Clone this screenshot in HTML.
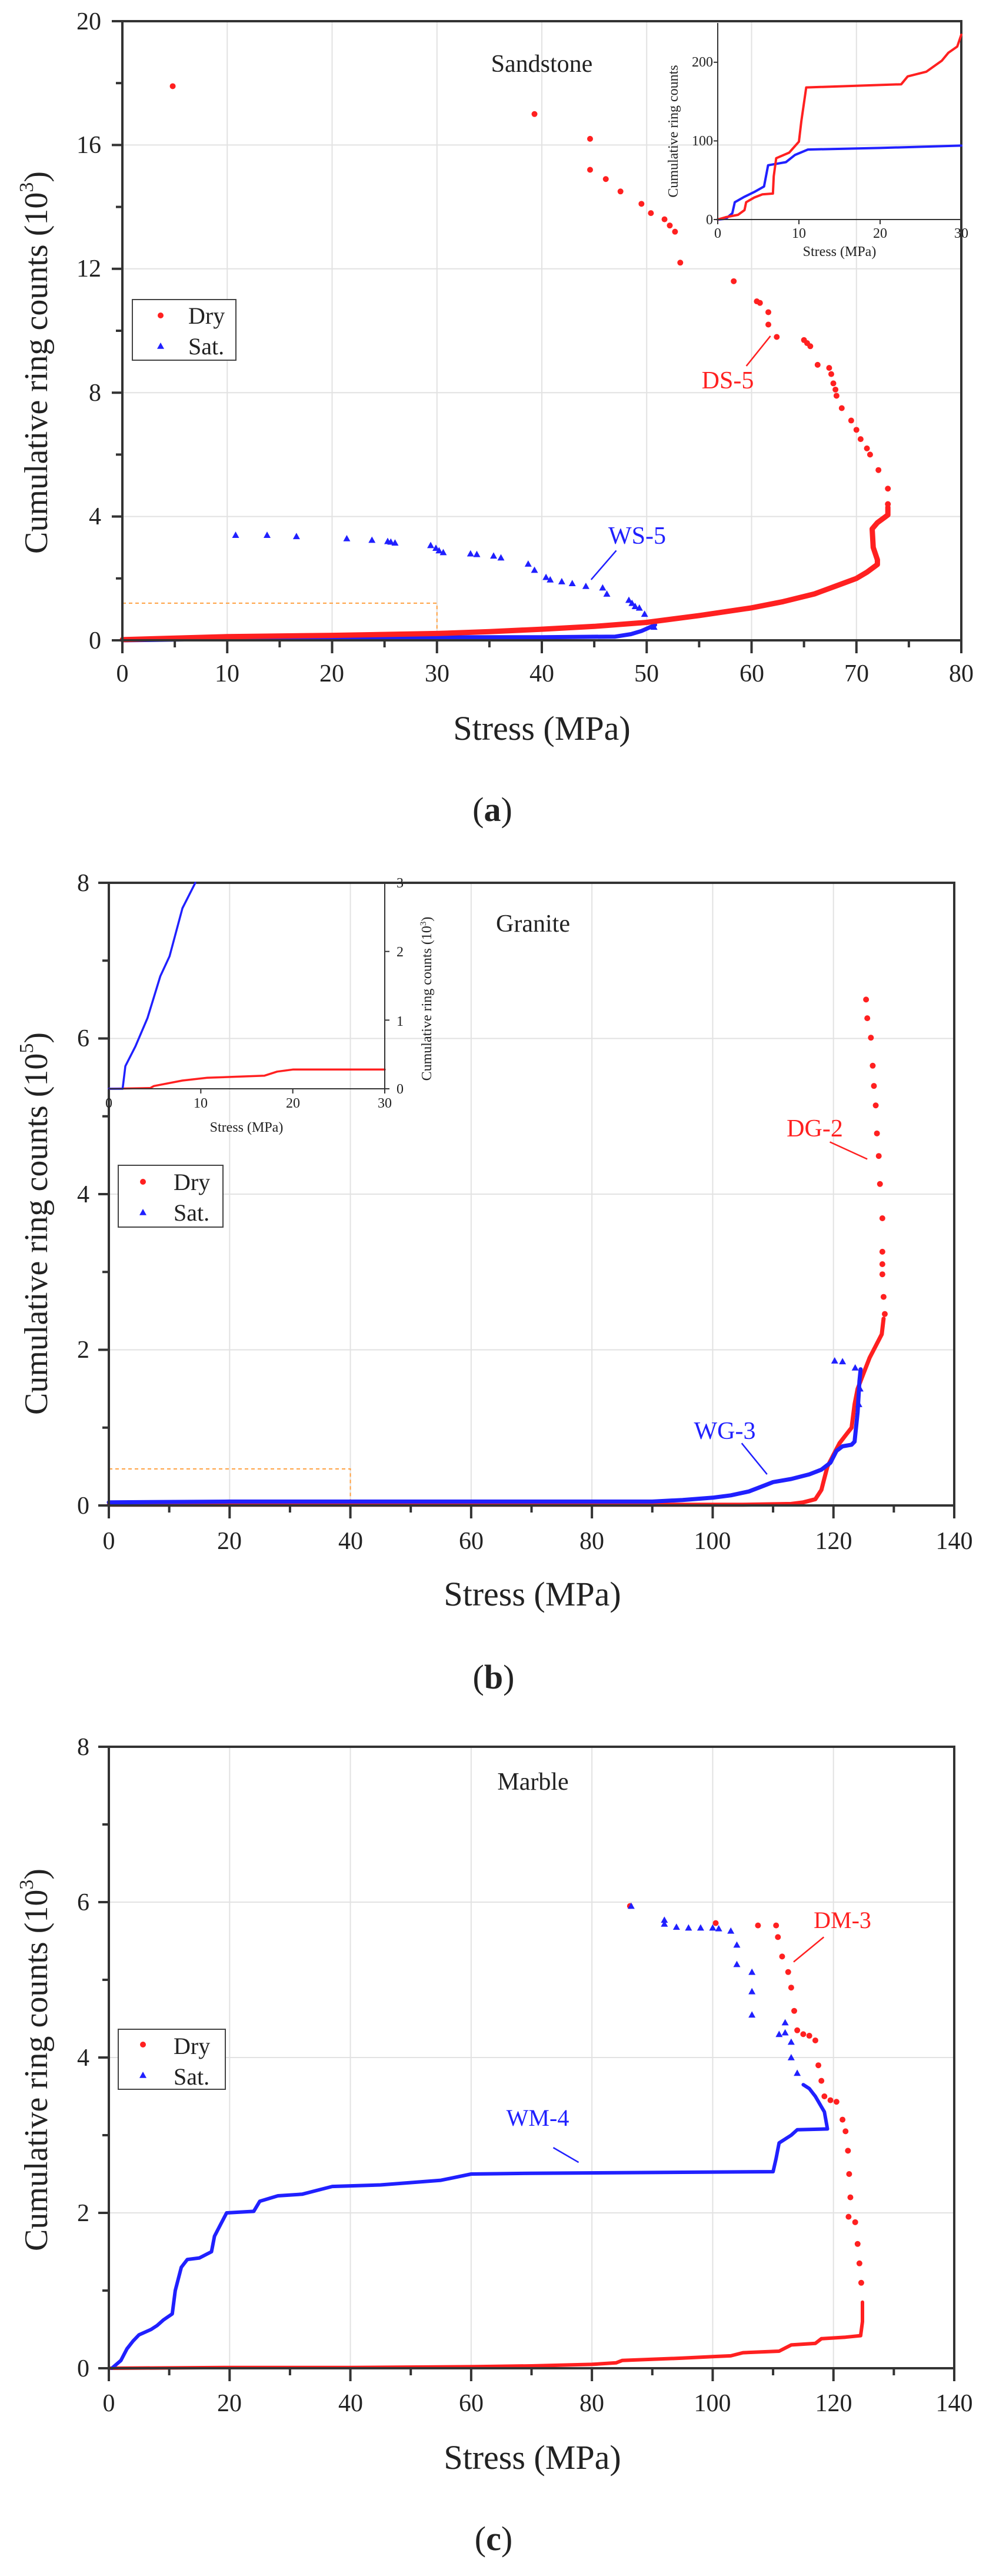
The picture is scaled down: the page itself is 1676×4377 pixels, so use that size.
<!DOCTYPE html>
<html><head><meta charset="utf-8">
<style>
html,body{margin:0;padding:0;background:#fff;}
svg{display:block;}
text{font-family:"Liberation Serif",serif;fill:#222;}
</style></head>
<body>
<svg id="s" xmlns="http://www.w3.org/2000/svg" width="1676" height="4377" viewBox="0 0 1676 4377">
<rect width="1676" height="4377" fill="#fff"/>
<g id="g"></g>
<!-- Panel a texts -->
<g font-size="42" text-anchor="end">
<text x="172" y="1102">0</text><text x="172" y="891">4</text><text x="172" y="681">8</text>
<text x="172" y="470">12</text><text x="172" y="260">16</text><text x="172" y="50">20</text>
</g>
<g font-size="42" text-anchor="middle">
<text x="208" y="1158">0</text><text x="386" y="1158">10</text><text x="564" y="1158">20</text><text x="743" y="1158">30</text>
<text x="921" y="1158">40</text><text x="1099" y="1158">50</text><text x="1278" y="1158">60</text><text x="1456" y="1158">70</text><text x="1634" y="1158">80</text>
</g>
<text x="921" y="1257" font-size="58" text-anchor="middle">Stress (MPa)</text>
<text transform="translate(80,616) rotate(-90)" font-size="56" text-anchor="middle">Cumulative ring counts (10<tspan font-size="34" dy="-24">3</tspan><tspan dy="24">)</tspan></text>
<text x="837" y="1395" font-size="58" text-anchor="middle">(<tspan font-weight="bold">a</tspan>)</text>
<text x="921" y="122" font-size="42" text-anchor="middle">Sandstone</text>
<text x="1237" y="660" font-size="42" style="fill:#ff2020" text-anchor="middle">DS-5</text>
<text x="1083" y="924" font-size="42" style="fill:#2020ff" text-anchor="middle">WS-5</text>
<rect x="225" y="509" width="176" height="103" fill="#fff" stroke="#444" stroke-width="2"/>
<text x="320" y="550" font-size="40">Dry</text><text x="320" y="602" font-size="40">Sat.</text>
<!-- inset a -->
<g font-size="24" text-anchor="middle">
<text x="1220" y="404">0</text><text x="1358" y="404">10</text><text x="1496" y="404">20</text><text x="1634" y="404">30</text>
<text x="1427" y="435">Stress (MPa)</text>
</g>
<g font-size="24" text-anchor="end">
<text x="1212" y="381">0</text><text x="1212" y="247">100</text><text x="1212" y="113">200</text>
</g>
<text transform="translate(1152,223) rotate(-90)" font-size="24" text-anchor="middle">Cumulative ring counts</text>

<!-- Panel b texts -->
<g font-size="42" text-anchor="end">
<text x="152" y="2572">0</text><text x="152" y="2307">2</text><text x="152" y="2043">4</text><text x="152" y="1778">6</text><text x="152" y="1514">8</text>
</g>
<g font-size="42" text-anchor="middle">
<text x="185" y="2632">0</text><text x="390" y="2632">20</text><text x="596" y="2632">40</text><text x="801" y="2632">60</text>
<text x="1006" y="2632">80</text><text x="1211" y="2632">100</text><text x="1417" y="2632">120</text><text x="1622" y="2632">140</text>
</g>
<text x="905" y="2728" font-size="58" text-anchor="middle">Stress (MPa)</text>
<text transform="translate(80,2079) rotate(-90)" font-size="56" text-anchor="middle">Cumulative ring counts (10<tspan font-size="34" dy="-24">5</tspan><tspan dy="24">)</tspan></text>
<text x="839" y="2869" font-size="58" text-anchor="middle">(<tspan font-weight="bold">b</tspan>)</text>
<text x="906" y="1583" font-size="42" text-anchor="middle">Granite</text>
<text x="1385" y="1931" font-size="42" style="fill:#ff2020" text-anchor="middle">DG-2</text>
<text x="1232" y="2445" font-size="42" style="fill:#2020ff" text-anchor="middle">WG-3</text>
<rect x="201" y="1980" width="178" height="105" fill="#fff" stroke="#444" stroke-width="2"/>
<text x="295" y="2022" font-size="40">Dry</text><text x="295" y="2074" font-size="40">Sat.</text>
<!-- inset b -->
<g font-size="24" text-anchor="middle">
<text x="185" y="1882">0</text><text x="341" y="1882">10</text><text x="498" y="1882">20</text><text x="654" y="1882">30</text>
<text x="419" y="1923">Stress (MPa)</text>
</g>
<g font-size="24">
<text x="674" y="1858">0</text><text x="674" y="1743">1</text><text x="674" y="1625">2</text><text x="674" y="1508">3</text>
</g>
<text transform="translate(733,1697) rotate(-90)" font-size="24" text-anchor="middle">Cumulative ring counts (10<tspan font-size="15" dy="-9">3</tspan><tspan dy="9">)</tspan></text>

<!-- Panel c texts -->
<g font-size="42" text-anchor="end">
<text x="152" y="4038">0</text><text x="152" y="3774">2</text><text x="152" y="3510">4</text><text x="152" y="3246">6</text><text x="152" y="2982">8</text>
</g>
<g font-size="42" text-anchor="middle">
<text x="185" y="4097">0</text><text x="390" y="4097">20</text><text x="596" y="4097">40</text><text x="801" y="4097">60</text>
<text x="1006" y="4097">80</text><text x="1211" y="4097">100</text><text x="1417" y="4097">120</text><text x="1622" y="4097">140</text>
</g>
<text x="905" y="4195" font-size="58" text-anchor="middle">Stress (MPa)</text>
<text transform="translate(80,3500) rotate(-90)" font-size="56" text-anchor="middle">Cumulative ring counts (10<tspan font-size="34" dy="-24">3</tspan><tspan dy="24">)</tspan></text>
<text x="839" y="4333" font-size="58" text-anchor="middle">(<tspan font-weight="bold">c</tspan>)</text>
<text x="906" y="3041" font-size="42" text-anchor="middle">Marble</text>
<text x="1432" y="3276" font-size="40" style="fill:#ff2020" text-anchor="middle">DM-3</text>
<text x="914" y="3612" font-size="40" style="fill:#2020ff" text-anchor="middle">WM-4</text>
<rect x="201" y="3448" width="182" height="102" fill="#fff" stroke="#444" stroke-width="2"/>
<text x="295" y="3490" font-size="40">Dry</text><text x="295" y="3542" font-size="40">Sat.</text>
<g id="o"></g>
</svg>
<script>
(function(){
var NS="http://www.w3.org/2000/svg",G=document.getElementById('g'),O=document.getElementById('o');
function el(n,a,p){var e=document.createElementNS(NS,n);for(var k in a)e.setAttribute(k,a[k]);(p||G).appendChild(e);return e;}
var RED="#ff2020",BLUE="#2020ff",AX="#333";
function M(l,r,t,b,xm,ym){return {X:function(v){return l+v*(r-l)/xm},Y:function(v){return b-v*(b-t)/ym},l:l,r:r,t:t,b:b};}
function grid(m,xs,ys){xs.forEach(function(v){el('line',{x1:m.X(v),x2:m.X(v),y1:m.t,y2:m.b,stroke:'#e2e2e2','stroke-width':2});});
 ys.forEach(function(v){el('line',{x1:m.l,x2:m.r,y1:m.Y(v),y2:m.Y(v),stroke:'#e2e2e2','stroke-width':2});});}
function frame(m,xmaj,xmin,ymaj,ymin){
 el('rect',{x:m.l,y:m.t,width:m.r-m.l,height:m.b-m.t,fill:'none',stroke:AX,'stroke-width':4});
 xmaj.forEach(function(v){el('line',{x1:m.X(v),x2:m.X(v),y1:m.b,y2:m.b+22,stroke:AX,'stroke-width':4});});
 xmin.forEach(function(v){el('line',{x1:m.X(v),x2:m.X(v),y1:m.b,y2:m.b+12,stroke:AX,'stroke-width':4});});
 ymaj.forEach(function(v){el('line',{x1:m.l,x2:m.l-18,y1:m.Y(v),y2:m.Y(v),stroke:AX,'stroke-width':4});});
 ymin.forEach(function(v){el('line',{x1:m.l,x2:m.l-11,y1:m.Y(v),y2:m.Y(v),stroke:AX,'stroke-width':4});});}
function line(m,pts,c,w){el('polyline',{points:pts.map(function(p){return m.X(p[0]).toFixed(1)+','+m.Y(p[1]).toFixed(1)}).join(' '),fill:'none',stroke:c,'stroke-width':w,'stroke-linejoin':'round','stroke-linecap':'round'});}
function dots(m,pts,r){pts.forEach(function(p){el('circle',{cx:m.X(p[0]),cy:m.Y(p[1]),r:r||5,fill:RED});});}
function tris(m,pts,s){s=s||6;pts.forEach(function(p){var x=m.X(p[0]),y=m.Y(p[1]);el('polygon',{points:(x)+','+(y-s)+' '+(x-s)+','+(y+s*0.8)+' '+(x+s)+','+(y+s*0.8),fill:BLUE});});}
function lead(m,a,b,c){el('line',{x1:m.X(a[0]),y1:m.Y(a[1]),x2:m.X(b[0]),y2:m.Y(b[1]),stroke:c,'stroke-width':2.5});}
function rng(a,b,s){var r=[];for(var v=a;v<=b+1e-9;v+=s)r.push(v);return r;}
function legend(x,y1,y2){el('circle',{cx:x,cy:y1,r:5,fill:RED},O);var s=6;el('polygon',{points:x+','+(y2-s)+' '+(x-s)+','+(y2+s*.8)+' '+(x+s)+','+(y2+s*.8),fill:BLUE},O);}

/* ---------- Panel a ---------- */
var a=M(208,1634,36,1088,80,20);
grid(a,rng(10,70,10),rng(4,16,4));
el('rect',{x:a.X(0),y:a.Y(1.2),width:a.X(30)-a.X(0),height:a.Y(0)-a.Y(1.2),fill:'none',stroke:'#ffa040','stroke-width':2,'stroke-dasharray':'6,5'});
line(a,[[0,0],[10,0.05],[20,0.08],[30,0.1],[40,0.1],[47,0.12],[48.5,0.2],[49.5,0.3],[50.5,0.45],[50.8,0.5]],BLUE,7);
line(a,[[0,0.02],[10,0.12],[20,0.16],[30,0.22],[35,0.28],[40,0.36],[45,0.45],[50,0.58],[55,0.8],[60,1.05],[63,1.25],[66,1.5],[68,1.75],[70,2.0],[71,2.2],[72,2.45],[72,2.6],[71.6,3.0],[71.5,3.6],[72,3.8],[72.6,3.95],[73,4.05],[73,4.3]],RED,9);
dots(a,[[4.8,17.9],[39.3,17.0],[44.6,16.2],[44.6,15.2],[46.1,14.9],[47.5,14.5],[49.5,14.1],[50.4,13.8],[51.7,13.6],[52.2,13.4],[52.7,13.2],[53.2,12.2],[58.3,11.6],[60.5,10.95],[60.8,10.9],[61.6,10.6],[61.6,10.2],[62.4,9.8],[65,9.7],[65.3,9.6],[65.6,9.5],[66.3,8.9],[67.4,8.8],[67.6,8.6],[67.8,8.3],[68,8.1],[68.1,7.9],[68.6,7.5],[69.5,7.1],[70,6.8],[70.4,6.5],[71,6.2],[71.3,6.0],[72.1,5.5],[73,4.9],[73,4.4]]);
tris(a,[[10.8,3.4],[13.8,3.4],[16.6,3.36],[21.4,3.29],[23.8,3.24],[25.3,3.2],[25.6,3.18],[26,3.15],[29.4,3.07],[29.9,2.98],[30.2,2.9],[30.6,2.84],[33.2,2.8],[33.8,2.78],[35.4,2.73],[36.1,2.67],[38.7,2.47],[39.3,2.27],[40.4,2.04],[40.8,1.96],[41.9,1.9],[42.9,1.84],[44.2,1.75],[45.8,1.7],[46.2,1.5],[48.3,1.3],[48.6,1.2],[48.9,1.1],[49.3,1.05],[49.8,0.85],[50.7,0.43]]);
lead(a,[59.5,8.86],[61.8,9.83],RED);
lead(a,[47.1,2.9],[44.7,1.96],BLUE);
frame(a,rng(0,80,10),rng(5,75,10),rng(0,20,4),rng(2,18,4));
legend(273,536,588);
/* inset a */
var ia=M(1220,1634,39,373,30,250);
line(ia,[[0,0],[1,1],[1.8,8],[2.1,22],[3.3,29],[4.5,35],[5.7,42],[6.2,69],[8.4,73],[9.5,82],[11.1,89],[20,91],[30,94]],BLUE,4);
line(ia,[[0,0],[1,3],[2.5,6],[3.3,12],[3.5,22],[4.5,28],[5.5,32],[6.8,33],[6.9,55],[7.2,78],[8.8,85],[10,99],[10.3,125],[10.9,168],[22.6,172],[23.4,182],[25.7,188],[27.6,202],[28.4,212],[29.5,220],[30,235]],RED,4);
el('line',{x1:ia.l,y1:ia.t,x2:ia.l,y2:ia.b,stroke:AX,'stroke-width':2});
el('line',{x1:ia.l,y1:ia.b,x2:ia.r,y2:ia.b,stroke:AX,'stroke-width':2});
[0,10,20,30].forEach(function(v){el('line',{x1:ia.X(v),x2:ia.X(v),y1:ia.b,y2:ia.b+8,stroke:AX,'stroke-width':2});});
[0,100,200].forEach(function(v){el('line',{x1:ia.l,x2:ia.l-7,y1:ia.Y(v),y2:ia.Y(v),stroke:AX,'stroke-width':2});});

/* ---------- Panel b ---------- */
var b=M(185,1622,1500,2558,140,8);
grid(b,rng(20,120,20),rng(2,6,2));
el('rect',{x:b.X(0),y:b.Y(0.47),width:b.X(40)-b.X(0),height:b.Y(0)-b.Y(0.47),fill:'none',stroke:'#ffa040','stroke-width':2,'stroke-dasharray':'6,5'});
line(b,[[0,0.01],[40,0.01],[80,0.01],[105,0.01],[113,0.02],[115,0.04],[117,0.08],[118,0.2],[118.5,0.35],[119,0.5],[120,0.65],[121,0.8],[122,0.9],[123,1.0],[123.5,1.3],[124,1.5],[125,1.7],[126,1.9],[127,2.05],[128,2.2],[128.3,2.4]],RED,7);
line(b,[[0,0.04],[20,0.05],[60,0.05],[90,0.05],[95,0.07],[100,0.1],[103,0.13],[106,0.18],[108,0.24],[110,0.3],[113,0.34],[116,0.4],[118,0.46],[119.5,0.55],[120.5,0.7],[121.5,0.76],[123,0.78],[123.5,0.82],[124,1.2],[124.3,1.6],[124.5,1.75]],BLUE,7);
dots(b,[[128.5,2.46],[128.3,2.68],[128.1,2.97],[128.1,3.1],[128.1,3.26],[128.1,3.69],[127.7,4.13],[127.5,4.49],[127.2,4.78],[127,5.14],[126.7,5.39],[126.5,5.65],[126.2,6.01],[125.6,6.26],[125.4,6.5]]);
tris(b,[[123.6,1.77],[121.5,1.85],[120.2,1.86],[124.4,1.5],[124.2,1.3]]);
lead(b,[119.4,4.67],[125.6,4.45],RED);
lead(b,[104.8,0.8],[109,0.4],BLUE);
frame(b,rng(0,140,20),rng(10,130,20),rng(0,8,2),rng(1,7,2));
legend(243,2008,2060);
/* inset b */
var ib=M(185,654,1500,1850,30,3);
line(ib,[[0,0],[4.5,0.01],[4.9,0.04],[8,0.12],[10.7,0.16],[16.9,0.19],[18.3,0.25],[20,0.28],[30,0.28]],RED,3.5);
line(ib,[[0,0],[1.5,0],[1.8,0.33],[2.9,0.62],[4.2,1.03],[5.6,1.64],[6.6,1.93],[8,2.63],[9.4,3.0]],BLUE,3.5);
el('line',{x1:ib.l,y1:ib.b,x2:ib.r,y2:ib.b,stroke:AX,'stroke-width':2});
el('line',{x1:ib.r,y1:ib.t,x2:ib.r,y2:ib.b,stroke:AX,'stroke-width':2});
[0,10,20,30].forEach(function(v){el('line',{x1:ib.X(v),x2:ib.X(v),y1:ib.b,y2:ib.b+8,stroke:AX,'stroke-width':2});});
[0,1,2,3].forEach(function(v){el('line',{x1:ib.r,x2:ib.r+8,y1:ib.Y(v),y2:ib.Y(v),stroke:AX,'stroke-width':2});});

/* ---------- Panel c ---------- */
var c=M(185,1622,2968,4024,140,8);
grid(c,rng(20,120,20),rng(2,6,2));
line(c,[[0,0],[20,0.01],[40,0.01],[60,0.02],[70,0.03],[80,0.05],[84,0.07],[85,0.1],[95,0.13],[100,0.15],[103,0.16],[105,0.2],[111,0.22],[112,0.26],[113,0.3],[117,0.32],[118,0.38],[122,0.4],[124.5,0.42],[124.8,0.6],[124.8,0.85]],RED,6);
line(c,[[0.5,0],[2,0.1],[3,0.25],[4,0.35],[5,0.43],[7,0.5],[8,0.55],[9,0.62],[10.5,0.7],[11,1.0],[12,1.3],[13,1.4],[15,1.42],[17,1.5],[17.5,1.7],[18.5,1.85],[19.5,2.0],[24,2.02],[25,2.15],[28,2.22],[32,2.24],[35,2.3],[37,2.34],[45,2.36],[55,2.42],[60,2.5],[70,2.51],[110,2.53],[110.5,2.7],[111,2.9],[113,3.0],[114,3.07],[119,3.08],[118.5,3.3],[117,3.5],[116,3.6],[115,3.65]],BLUE,6);
dots(c,[[124.6,1.1],[124.3,1.35],[124,1.6],[123.6,1.88],[122.5,1.95],[122.8,2.2],[122.6,2.5],[122.4,2.8],[122,3.05],[121.5,3.2],[120.5,3.43],[119.5,3.45],[118.5,3.5],[118,3.7],[117.5,3.9],[117,4.22],[116,4.28],[115,4.3],[114,4.35],[113.5,4.6],[113,4.9],[112.5,5.1],[111.5,5.3],[110.8,5.55],[110.5,5.7],[107.5,5.7],[100.5,5.73],[86.3,5.95]]);
tris(c,[[114,3.8],[113,4.0],[113,4.2],[112,4.32],[111,4.3],[112,4.45],[106.5,4.55],[106.5,4.85],[106.5,5.1],[104,5.2],[104,5.45],[103,5.63],[101,5.66],[100,5.67],[98,5.67],[96,5.67],[94,5.68],[92,5.72],[92,5.77],[86.5,5.95]]);
lead(c,[118.4,5.55],[113.4,5.23],RED);
lead(c,[73.6,2.84],[77.8,2.65],BLUE);
frame(c,rng(0,140,20),rng(10,130,20),rng(0,8,2),rng(1,7,2));
legend(243,3474,3526);
})();
</script>
</body></html>
